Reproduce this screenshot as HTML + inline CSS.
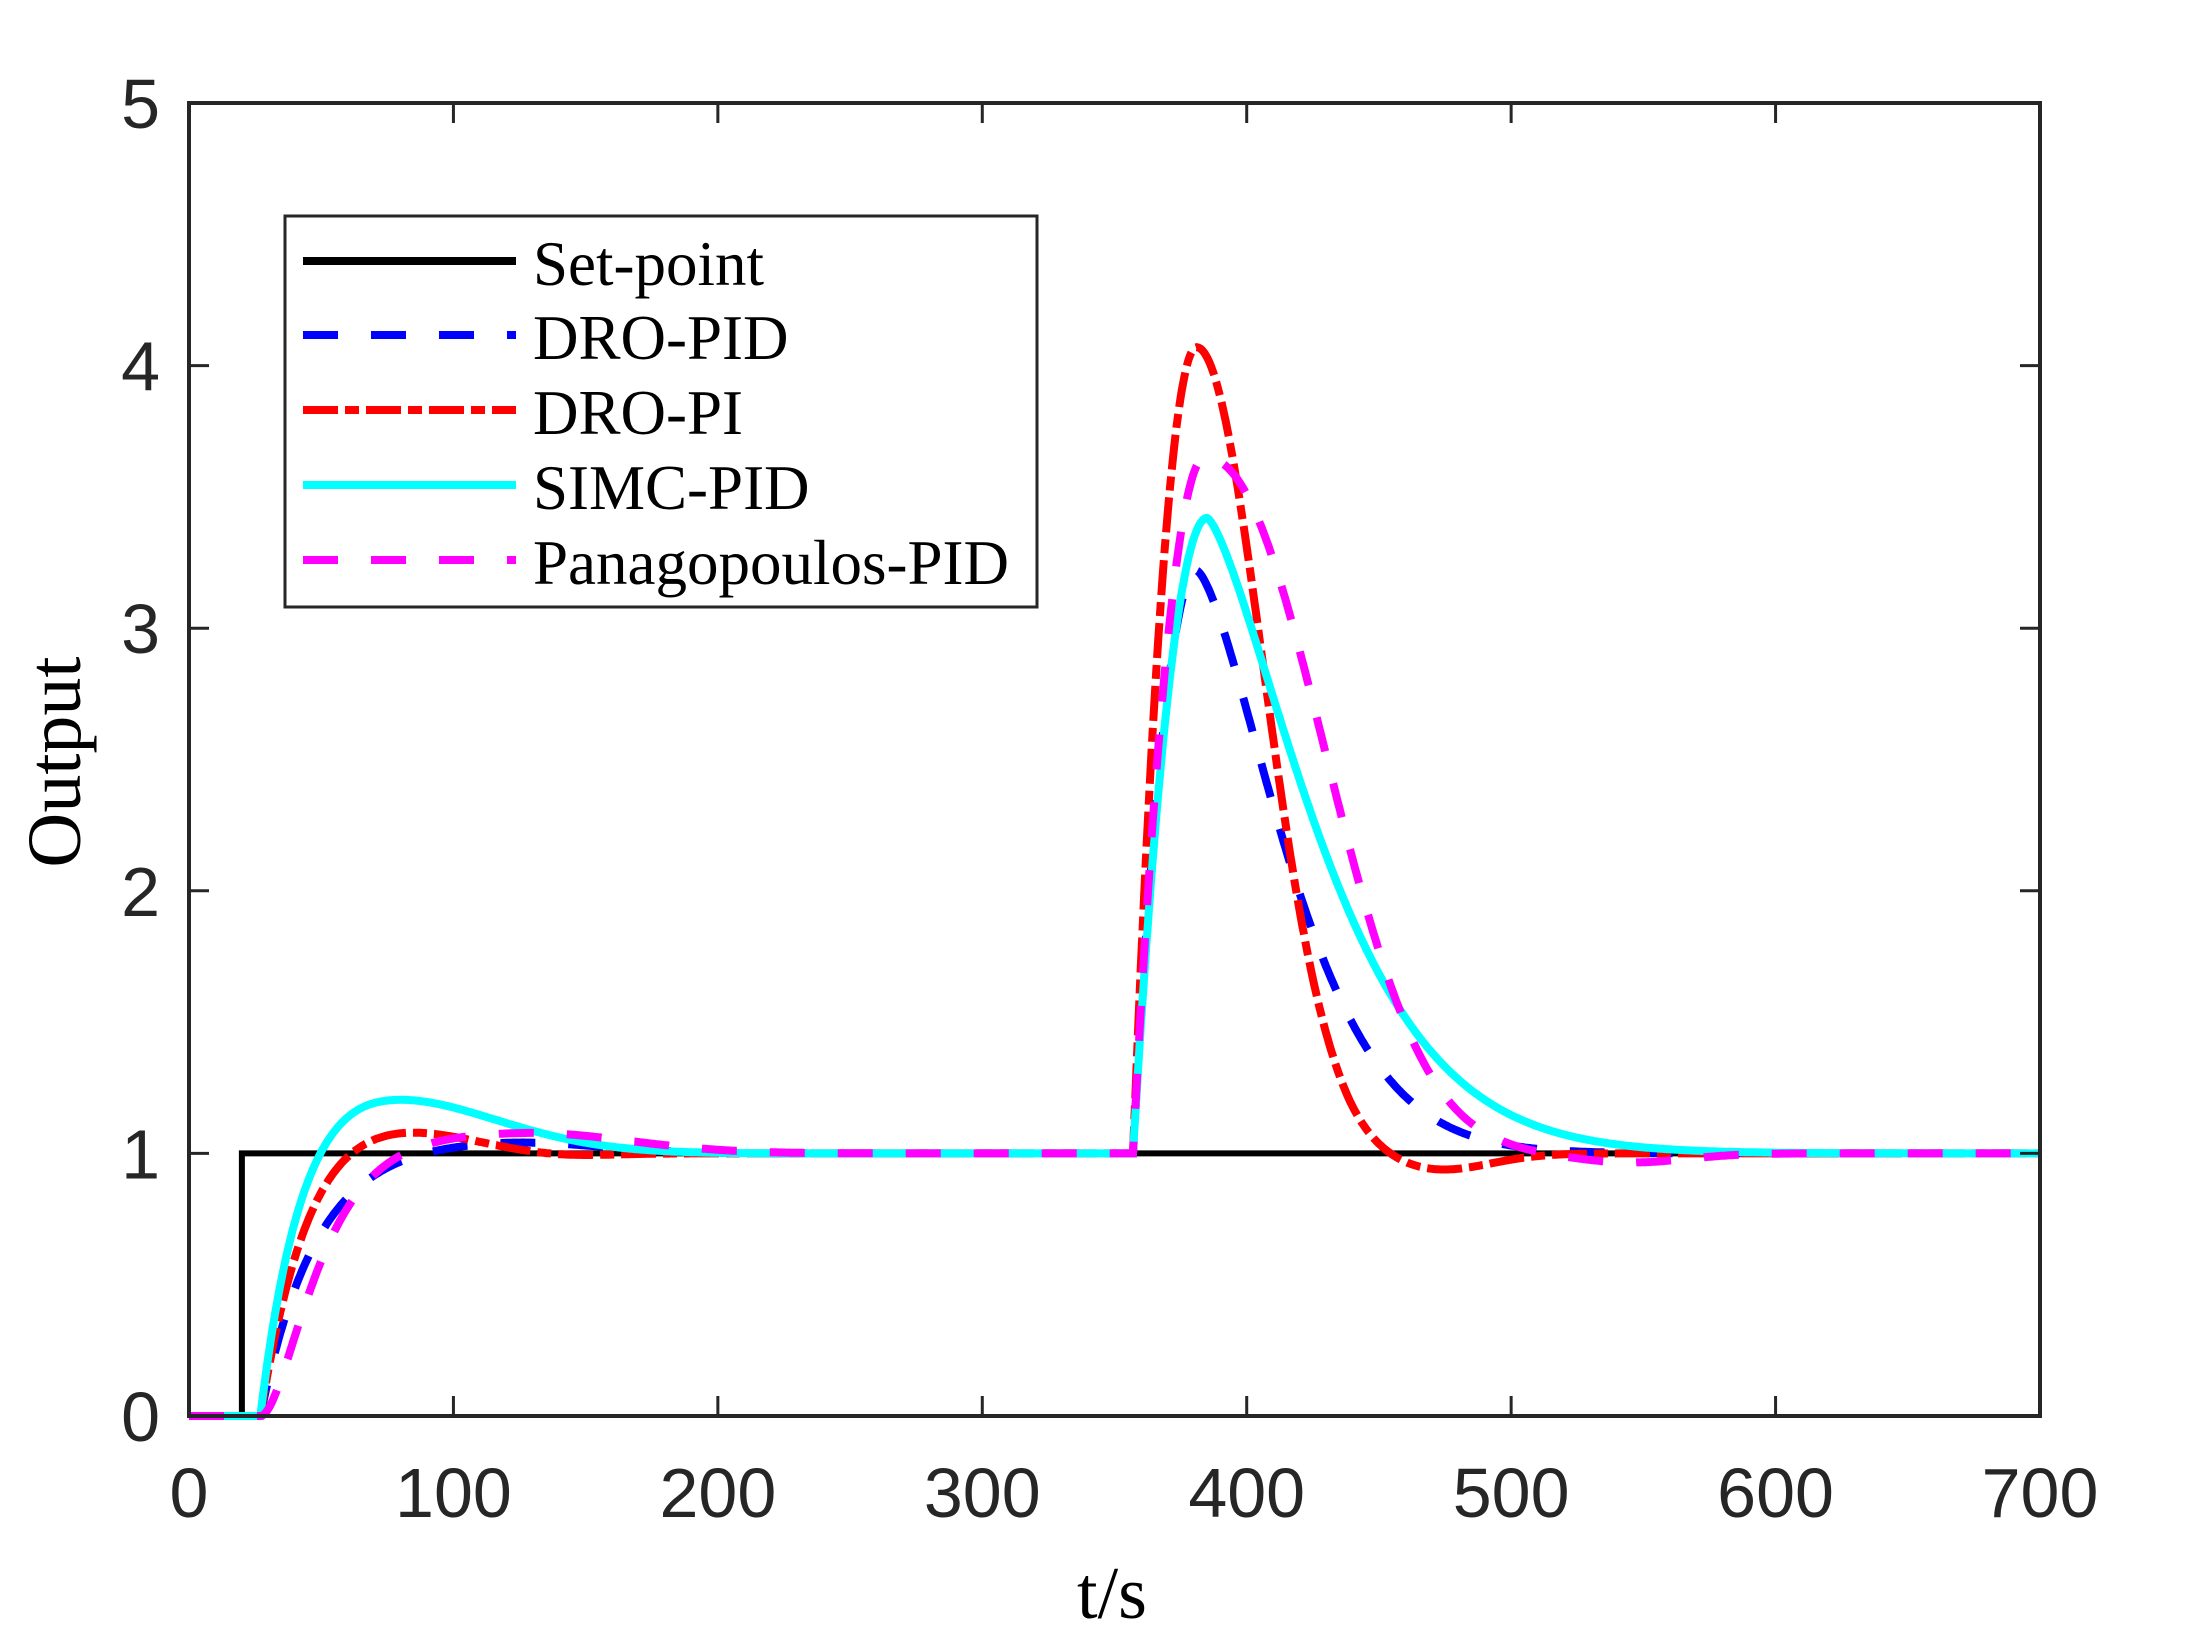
<!DOCTYPE html>
<html><head><meta charset="utf-8"><style>
html,body{margin:0;padding:0;background:#fff;}
svg{display:block}
.tk{font-family:"Liberation Sans",Arial,sans-serif;font-size:70px;fill:#262626}
.tm{font-family:"Liberation Serif","Times New Roman",serif;fill:#000}
</style></head><body>
<svg id="s" width="2186" height="1652" viewBox="0 0 2186 1652" xmlns="http://www.w3.org/2000/svg">
<rect width="2186" height="1652" fill="#fff"/>
<g id="curves"></g>
<rect x="189" y="103" width="1851" height="1313" fill="none" stroke="#262626" stroke-width="4"/>
<g id="ticks" stroke="#262626" stroke-width="3"></g>
<g id="labels"></g>
<text class="tm" x="1112" y="1618" font-size="74" text-anchor="middle">t/s</text>
<text class="tm" x="0" y="0" font-size="76" text-anchor="middle" transform="translate(80,762) rotate(-90)">Output</text>
<g>
<rect x="285" y="216" width="752" height="391" fill="#fff" stroke="#262626" stroke-width="3"/>
<line x1="303" y1="261" x2="516" y2="261" stroke="#000" stroke-width="8"/>
<line x1="303" y1="335" x2="516" y2="335" stroke="#0000ff" stroke-width="8" stroke-dasharray="35 33"/>
<line x1="303" y1="410" x2="516" y2="410" stroke="#ff0000" stroke-width="8" stroke-dasharray="35 7 14 7"/>
<line x1="303" y1="485" x2="516" y2="485" stroke="#00ffff" stroke-width="8"/>
<line x1="303" y1="560" x2="516" y2="560" stroke="#ff00ff" stroke-width="8" stroke-dasharray="35 33"/>
<text class="tm" x="533" y="285" font-size="63">Set-point</text>
<text class="tm" x="533" y="359" font-size="63">DRO-PID</text>
<text class="tm" x="533" y="434" font-size="63">DRO-PI</text>
<text class="tm" x="533" y="509" font-size="63">SIMC-PID</text>
<text class="tm" x="533" y="584" font-size="63">Panagopoulos-PID</text>
</g>
</svg>
<script>
var NS="http://www.w3.org/2000/svg";
function X(t){return 189+t*1851/700;}
function Y(v){return 1416-v*1313/5;}
function bump(tau,B,tb,w){if(tau<=tb){var u=tau/tb;return B*u*u*Math.exp(2*(1-u));}return B*Math.exp(-Math.pow((tau-tb)/w,2));}
function s1(t,T,B,tb,w){var tau=t-27;if(tau<=0)return 0;return 1-Math.exp(-tau/T)+bump(tau,B,tb,w);}
function s2(t,T,B,tb,w){var tau=t-27;if(tau<=0)return 0;return 1-(1+tau/T)*Math.exp(-tau/T)+bump(tau,B,tb,w);}
function dist(t,A,tp,s,p){var tau=t-357;if(tau<=0)return 0;if(tau<tp){var u=tau/tp;return A*(1-(1-u)*(1-u));}var x=tau-tp;return A*Math.exp(-Math.pow(x/s,p));}
function g(t,c,w){return Math.exp(-Math.pow((t-c)/w,2));}
var series=[
 {c:"#000",w:6,d:null},
 {c:"#0000ff",w:8,d:"35 33",f:function(t){return s1(t,20,0.05,90,50)+dist(t,2.22,24,45,1.5);}},
 {c:"#ff0000",w:8,d:"35 7 14 7",f:function(t){return s1(t,16,0.12,42,45)-0.012*g(t,140,25)+dist(t,3.07,24,35.6,2)-0.065*g(t,472,28)*(t>440?1:Math.exp(-Math.pow((440-t)/10,2)));}},
 {c:"#00ffff",w:8,d:null,f:function(t){return s1(t,12,0.22,45,60)+dist(t,2.42,28,55,1.4);}},
 {c:"#ff00ff",w:8,d:"35 33",f:function(t){return s2(t,12,0.08,100,55)+dist(t,2.65,27,60,2.2)-0.035*g(t,545,30)*(t>505?1:Math.exp(-Math.pow((505-t)/10,2)));}}
];
var cg=document.getElementById("curves");
series.forEach(function(s,i){var d="";
 if(i==0){d="M"+X(0)+","+Y(0)+"L"+X(20)+","+Y(0)+"L"+X(20)+","+Y(1)+"L"+X(700)+","+Y(1);}
 else{for(var t=0;t<=700;t+=0.5){d+=(t==0?"M":"L")+X(t).toFixed(1)+","+Y(s.f(t)).toFixed(1);}}
 var p=document.createElementNS(NS,"path");p.setAttribute("d",d);p.setAttribute("fill","none");p.setAttribute("stroke",s.c);p.setAttribute("stroke-width",s.w);if(s.d)p.setAttribute("stroke-dasharray",s.d);cg.appendChild(p);});
var tg=document.getElementById("ticks"),lg=document.getElementById("labels");
function ln(a,b,c,d){var l=document.createElementNS(NS,"line");l.setAttribute("x1",a);l.setAttribute("y1",b);l.setAttribute("x2",c);l.setAttribute("y2",d);tg.appendChild(l);}
function tx(x,y,s,a){var t=document.createElementNS(NS,"text");t.setAttribute("x",x);t.setAttribute("y",y);t.setAttribute("class","tk");t.setAttribute("text-anchor",a);t.textContent=s;lg.appendChild(t);}
for(var t=0;t<=700;t+=100){var x=X(t);ln(x,1416,x,1396);ln(x,103,x,123);tx(x,1517,String(t),"middle");}
for(var v=0;v<=5;v++){var y=Y(v);ln(189,y,209,y);ln(2040,y,2020,y);tx(160,y+25,String(v),"end");}
</script>
</body></html>
